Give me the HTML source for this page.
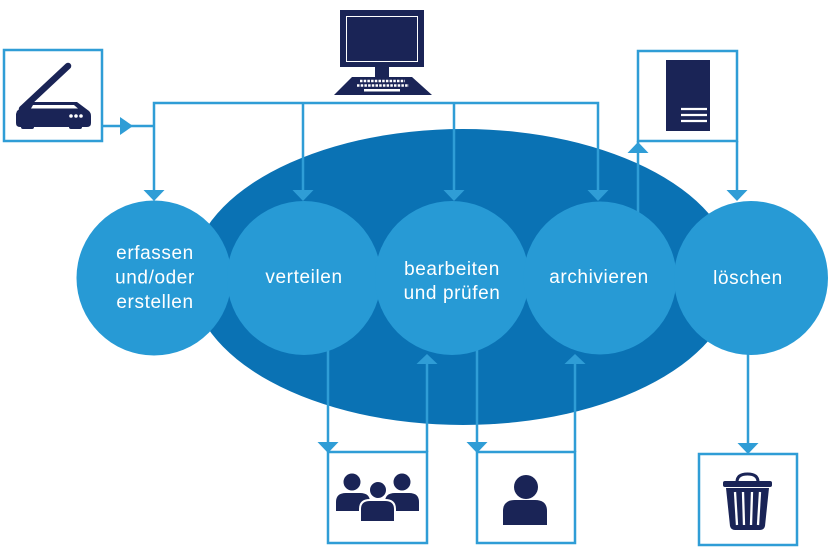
<!DOCTYPE html>
<html><head><meta charset="utf-8"><style>
html,body{margin:0;padding:0;background:#fff;}
svg{display:block;}
text{font-family:"Liberation Sans",sans-serif;font-size:19px;fill:#fff;letter-spacing:0.6px;text-anchor:middle;}
</style></head><body>
<svg width="838" height="552" viewBox="0 0 838 552" xmlns="http://www.w3.org/2000/svg">
<!-- big ellipse -->
<ellipse cx="463" cy="277" rx="272" ry="148" fill="#0a72b4"/>

<g stroke="#2f9dd6" stroke-width="2.5" fill="none">
  <!-- scanner box -->
  <rect x="4" y="50" width="98" height="91"/>
  <line x1="102" y1="126" x2="154" y2="126"/>
  <!-- top bus -->
  <polyline points="154,192 154,103 598,103 598,192"/>
  <line x1="303" y1="103" x2="303" y2="192"/>
  <line x1="454" y1="103" x2="454" y2="192"/>
  <!-- server box -->
  <rect x="638" y="51" width="99" height="90"/>
  <line x1="638" y1="141" x2="638" y2="220"/>
  <line x1="737" y1="141" x2="737" y2="192"/>
  <!-- bottom: group -->
  <rect x="328" y="452" width="99" height="91"/>
  <line x1="328" y1="340" x2="328" y2="444"/>
  <line x1="427" y1="452" x2="427" y2="360"/>
  <!-- person -->
  <rect x="477" y="452" width="98" height="91"/>
  <line x1="477" y1="340" x2="477" y2="444"/>
  <line x1="575" y1="452" x2="575" y2="360"/>
  <!-- trash -->
  <rect x="699" y="454" width="98" height="91"/>
  <line x1="748" y1="340" x2="748" y2="446"/>
</g>
<g fill="#2f9dd6">
  <polygon points="120,117 133,126 120,135"/>
  <polygon points="143.5,190 164.5,190 154,201"/>
  <polygon points="292.5,190 313.5,190 303,201"/>
  <polygon points="443.5,190 464.5,190 454,201"/>
  <polygon points="587.5,190 608.5,190 598,201"/>
  <polygon points="726.5,190 747.5,190 737,201"/>
  <polygon points="627.5,153 648.5,153 638,142"/>
  <polygon points="317.5,442 338.5,442 328,453"/>
  <polygon points="466.5,442 487.5,442 477,453"/>
  <polygon points="737.5,443 758.5,443 748,454"/>
  <polygon points="416.5,364 437.5,364 427,354"/>
  <polygon points="564.5,364 585.5,364 575,354"/>
</g>

<!-- circles -->
<g fill="#279ad5">
  <circle cx="154" cy="278" r="77.5"/>
  <circle cx="304" cy="278" r="77"/>
  <circle cx="452" cy="278" r="77"/>
  <circle cx="600" cy="278" r="76.5"/>
  <circle cx="751" cy="278" r="77"/>
</g>

<text x="155" y="259">erfassen</text>
<text x="155" y="283.5">und/oder</text>
<text x="155" y="308">erstellen</text>
<text x="304" y="283">verteilen</text>
<text x="452" y="275">bearbeiten</text>
<text x="452" y="299">und prüfen</text>
<text x="599" y="283">archivieren</text>
<text x="748" y="284">löschen</text>

<!-- computer -->
<g fill="#1a2456">
  <rect x="340" y="10" width="84" height="57"/>
  <rect x="375" y="66" width="14" height="12"/>
  <polygon points="352,77 412,77 432,95 334,95"/>
</g>
<rect x="346.5" y="16.5" width="71" height="45" fill="none" stroke="#fff" stroke-width="1"/>
<g stroke="#fff" stroke-width="2.5" stroke-dasharray="2.5 1.2">
  <line x1="360" y1="81" x2="405" y2="81"/>
  <line x1="357" y1="85.5" x2="409" y2="85.5"/>
</g>
<rect x="364" y="89" width="36" height="2.5" fill="#fff"/>

<!-- scanner -->
<g fill="#1a2456">
  <line x1="68" y1="66" x2="22" y2="109" stroke="#1a2456" stroke-width="6.5" stroke-linecap="round"/>
  <path d="M17 111 L28 102 L77 102 L89 111 Q91 113 91 116 L91 123 Q91 127 87 127 L20 127 Q16 127 16 123 L16 114 Z"/>
  <rect x="21" y="123" width="13" height="6" rx="2"/>
  <rect x="69" y="123" width="13" height="6" rx="2"/>
</g>
<polygon points="33,105 74,105 78,108.5 31,108.5" fill="#fff"/>
<g fill="#fff">
  <circle cx="71" cy="116" r="1.8"/>
  <circle cx="76" cy="116" r="1.8"/>
  <circle cx="81" cy="116" r="1.8"/>
</g>

<!-- server -->
<rect x="666" y="60" width="44" height="71" fill="#1a2456"/>
<g stroke="#fff" stroke-width="2.2">
  <line x1="681" y1="109" x2="707" y2="109"/>
  <line x1="681" y1="115" x2="707" y2="115"/>
  <line x1="681" y1="121" x2="707" y2="121"/>
</g>

<!-- group -->
<g fill="#1a2456">
  <circle cx="352" cy="482" r="8.5"/>
  <circle cx="402" cy="482" r="8.5"/>
  <path d="M336 511 L336 502 Q336 493 346 493 L360 493 Q370 493 370 502 L370 511 Z"/>
  <path d="M385 511 L385 502 Q385 493 395 493 L409 493 Q419 493 419 502 L419 511 Z"/>
  <path d="M360 522 L360 509 Q360 500 370 500 L385 500 Q395 500 395 509 L395 522 Z" stroke="#fff" stroke-width="2"/>
  <circle cx="378" cy="490" r="9" stroke="#fff" stroke-width="2"/>
</g>

<!-- person -->
<g fill="#1a2456">
  <circle cx="526" cy="487" r="12"/>
  <path d="M503 525 L503 511 Q503 500 515 500 L535 500 Q547 500 547 511 L547 525 Z"/>
</g>

<!-- trash -->
<path d="M737 482 Q737 474 747.5 474 Q758 474 758 482" fill="none" stroke="#1a2456" stroke-width="3"/>
<rect x="723" y="481" width="49" height="6" rx="2" fill="#1a2456"/>
<path d="M726 488 L769 488 L765 526 Q764 530 760 530 L735 530 Q731 530 730 526 Z" fill="#1a2456"/>
<g stroke="#fff" stroke-width="2.3">
  <line x1="735" y1="492" x2="737" y2="525"/>
  <line x1="743" y1="492" x2="744" y2="525"/>
  <line x1="752" y1="492" x2="751" y2="525"/>
  <line x1="760" y1="492" x2="758" y2="525"/>
</g>
</svg>
</body></html>
